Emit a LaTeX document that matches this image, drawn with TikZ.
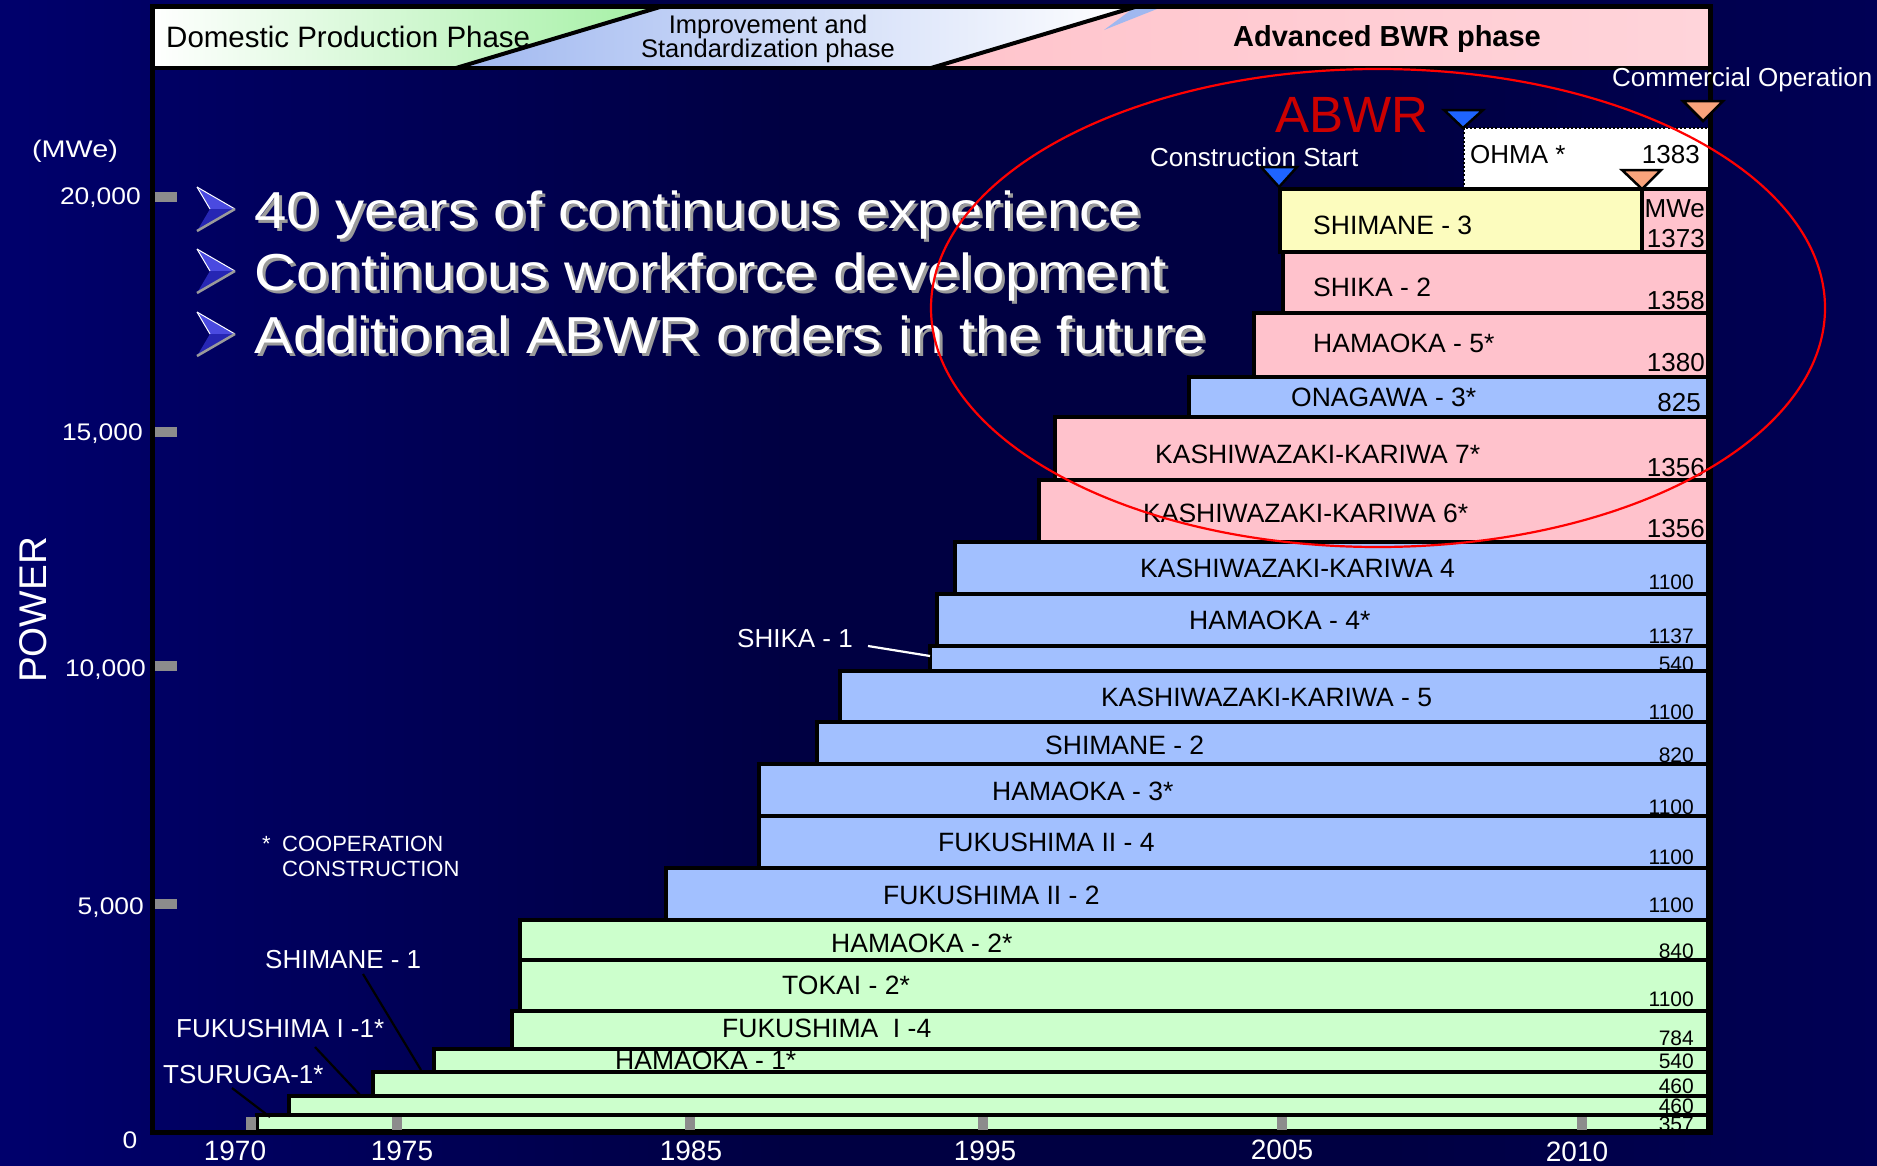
\documentclass[tikz,border=0pt]{standalone}
\usepackage{fontspec}
\setmainfont{Liberation Sans}
\usepackage{graphicx}
\definecolor{bgA}{HTML}{000080}
\definecolor{bgB}{HTML}{000076}
\definecolor{bgC}{HTML}{000042}
\definecolor{bgD}{HTML}{000068}
\definecolor{barGreen}{HTML}{CCFFCC}
\definecolor{barBlue}{HTML}{A2C0FF}
\definecolor{barPink}{HTML}{FFC2CC}
\definecolor{barYellow}{HTML}{FCFCBE}
\definecolor{hdrGreen}{HTML}{A4F0A4}
\definecolor{hdrBlue}{HTML}{A0B8F0}
\definecolor{hdrPink}{HTML}{FFC4CC}
\definecolor{hdrPinkB}{HTML}{FFD4DA}
\definecolor{triBlue}{HTML}{1E64FF}
\definecolor{triOrange}{HTML}{F9A47C}
\definecolor{tickgray}{HTML}{8C8C8C}
\definecolor{abwrRed}{HTML}{CC0000}
\definecolor{shadowgray}{HTML}{9A9A9A}
\definecolor{arrUp}{HTML}{4A4AE0}
\definecolor{arrLo}{HTML}{2626B4}
\pgfdeclarehorizontalshading{bgsh}{100bp}{color(0bp)=(bgA); color(20bp)=(bgB); color(46bp)=(bgC); color(62bp)=(bgC); color(88bp)=(bgD); color(100bp)=(bgA)}
\begin{document}
\begin{tikzpicture}[x=1pt, y=-1pt,
  lbl/.style={inner sep=0pt, text=black, font=\fontsize{26.5}{30}\selectfont, anchor=base west},
  val/.style={inner sep=0pt, text=black, font=\fontsize{26}{30}\selectfont, anchor=base east},
  sval/.style={inner sep=0pt, text=black, font=\fontsize{21}{24}\selectfont, anchor=base east},
  wl/.style={inner sep=0pt, text=white, font=\fontsize{26}{30}\selectfont},
  yr/.style={inner sep=0pt, text=white, font=\fontsize{28}{32}\selectfont, anchor=base},
  ax/.style={inner sep=0pt, text=white, font=\fontsize{24}{28}\selectfont, anchor=base east},
  bt/.style={inner sep=0pt, anchor=base west, font=\fontsize{52}{60}\selectfont},
  barb/.style={draw=black, line width=3.5pt},
  lead/.style={line width=2.2pt},
  tri/.style={draw=black, line width=2.5pt, line join=miter}
]
\useasboundingbox (0,0) rectangle (1877,1165);
\shade[shading=bgsh] (0,0) rectangle (1877,1165);

% header band
\shade[left color=white, right color=hdrGreen] (152,7) -- (660,7) -- (456,68) -- (152,68) -- cycle;
\shade[left color=hdrBlue, right color=white] (456,68) -- (660,7) -- (1135,7) -- (931,68) -- cycle;
\shade[left color=hdrPink, middle color=white, right color=hdrPinkB] (931,68) -- (1135,7) -- (1710,7) -- (1710,68) -- cycle;
\fill[hdrBlue] (1135,7) -- (1162,7) -- (1104,30) -- cycle;
\draw[line width=4pt] (456,68) -- (660,7);
\draw[line width=4pt] (931,68) -- (1135,7);
\node[inner sep=0pt, anchor=base west, font=\fontsize{29.5}{32}\selectfont] (hd1) at (166,47.5) {Domestic Production Phase};
\node[inner sep=0pt, anchor=base, font=\fontsize{25.5}{28}\selectfont] (hd2a) at (768,33) {Improvement and};
\node[inner sep=0pt, anchor=base, font=\fontsize{25.5}{28}\selectfont] (hd2b) at (768,57) {Standardization phase};
\node[inner sep=0pt, anchor=base, font=\fontsize{29}{32}\selectfont\bfseries] (hd3) at (1387,46) {Advanced BWR phase};

% bars
\fill[white] (1464,128) rectangle (1708,189);
\draw[line width=1.8pt, dash pattern=on 2pt off 2.2pt] (1464,189) -- (1464,128) -- (1708,128);
\fill[barYellow] (1280,189) rectangle (1642,252);
\fill[barPink] (1642,189) rectangle (1708,252);
\draw[barb] (1280,189) rectangle (1708,252);
\draw[barb] (1642,189) -- (1642,252);
\filldraw[barb, fill=barPink] (1283,252) rectangle (1708,313);
\filldraw[barb, fill=barPink] (1254,313) rectangle (1708,377);
\filldraw[barb, fill=barBlue] (1189,377) rectangle (1708,417);
\filldraw[barb, fill=barPink] (1055,417) rectangle (1708,480);
\filldraw[barb, fill=barPink] (1039,480) rectangle (1708,542);
\filldraw[barb, fill=barBlue] (955,542) rectangle (1708,594);
\filldraw[barb, fill=barBlue] (937,594) rectangle (1708,646);
\filldraw[barb, fill=barBlue] (930,646) rectangle (1708,671);
\filldraw[barb, fill=barBlue] (840,671) rectangle (1708,722);
\filldraw[barb, fill=barBlue] (817,722) rectangle (1708,764);
\filldraw[barb, fill=barBlue] (759,764) rectangle (1708,816);
\filldraw[barb, fill=barBlue] (759,816) rectangle (1708,868);
\filldraw[barb, fill=barBlue] (666,868) rectangle (1708,920);
\filldraw[barb, fill=barGreen] (520,920) rectangle (1708,960);
\filldraw[barb, fill=barGreen] (520,960) rectangle (1708,1011);
\filldraw[barb, fill=barGreen] (512,1011) rectangle (1708,1049);
\filldraw[barb, fill=barGreen] (434,1049) rectangle (1708,1072);
\filldraw[barb, fill=barGreen] (373,1072) rectangle (1708,1096);
\filldraw[barb, fill=barGreen] (289,1096) rectangle (1708,1115);
\filldraw[barb, fill=barGreen] (257,1115) rectangle (1708,1131);

% bar labels
\node[wl, anchor=base west, text=black] (nOH) at (1470,163.3) {OHMA *};
\node[lbl] (nSH3) at (1313,234.5) {SHIMANE - 3};
\node[lbl] (nSK2) at (1313,296.5) {SHIKA - 2};
\node[lbl] (nHM5) at (1313,352.5) {HAMAOKA - 5*};
\node[lbl] (nON3) at (1291,406.5) {ONAGAWA - 3*};
\node[lbl] (nKK7) at (1155,463.5) {KASHIWAZAKI-KARIWA 7*};
\node[lbl] (nKK6) at (1143,522.5) {KASHIWAZAKI-KARIWA 6*};
\node[lbl] (nKK4) at (1140,577.5) {KASHIWAZAKI-KARIWA 4};
\node[lbl] (nHM4) at (1189,629.5) {HAMAOKA - 4*};
\node[lbl] (nKK5) at (1101,706.5) {KASHIWAZAKI-KARIWA - 5};
\node[lbl] (nSM2) at (1045,754.5) {SHIMANE - 2};
\node[lbl] (nHM3) at (992,800.5) {HAMAOKA - 3*};
\node[lbl] (nF24) at (938,851.5) {FUKUSHIMA II - 4};
\node[lbl] (nF22) at (883,904.5) {FUKUSHIMA II - 2};
\node[lbl] (nHM2) at (831,952.5) {HAMAOKA - 2*};
\node[lbl] (nTK2) at (782,994.5) {TOKAI - 2*};
\node[lbl] (nF14) at (722,1037.5) {FUKUSHIMA \ I -4};
\node[lbl] (nHM1) at (615,1069.5) {HAMAOKA - 1*};

% values
\node[val] (v1) at (1700,163.3) {1383};
\node[val] (v2a) at (1705,217.3) {MWe};
\node[val] (v2) at (1705,247.3) {1373};
\node[val] (v3) at (1705,309.3) {1358};
\node[val] (v4) at (1705,371.3) {1380};
\node[val] (v5) at (1701,411.3) {825};
\node[val] (v6) at (1705,476.3) {1356};
\node[val] (v7) at (1705,537.3) {1356};
\node[sval] (v8) at (1694,589.5) {1100};
\node[sval] (v9) at (1694,643.5) {1137};
\node[sval] (v10) at (1694,671.5) {540};
\node[sval] (v11) at (1694,719.5) {1100};
\node[sval] (v12) at (1694,762.5) {820};
\node[sval] (v13) at (1694,814.5) {1100};
\node[sval] (v14) at (1694,864.5) {1100};
\node[sval] (v15) at (1694,912.5) {1100};
\node[sval] (v16) at (1694,958.5) {840};
\node[sval] (v17) at (1694,1006.5) {1100};
\node[sval] (v18) at (1694,1045.5) {784};
\node[sval] (v19) at (1694,1068.5) {540};
\node[sval] (v20) at (1694,1093.5) {460};
\node[sval] (v21) at (1694,1113.5) {460};
\node[sval] (v22) at (1694,1131.5) {357};

% ticks
\foreach \c in {251,397,690,983,1282,1582} {\fill[tickgray] ({\c-5},1117) rectangle ({\c+5},1130);}
\foreach \c in {197,432,666,904} {\fill[tickgray] (155,{\c-5}) rectangle (177,{\c+5});}

% frame
\draw[line width=5pt] (152,6) rectangle (1710,1132);
\draw[line width=4pt] (152,68) -- (1710,68);

% axis labels
\node[inner sep=0pt, anchor=base, text=white, font=\fontsize{24}{28}\selectfont] (mwe) at (75,157) {\scalebox{1.2}[1]{(MWe)}};
\node[ax] (y20) at (141,204) {\scalebox{1.1}[1]{20,000}};
\node[ax] (y15) at (143,440) {\scalebox{1.1}[1]{15,000}};
\node[ax] (y10) at (146,676) {\scalebox{1.1}[1]{10,000}};
\node[ax] (y5) at (144,914) {\scalebox{1.1}[1]{5,000}};
\node[inner sep=0pt, anchor=base, text=white, font=\fontsize{24}{28}\selectfont] (y0) at (130,1148) {\scalebox{1.1}[1]{0}};
\node[inner sep=0pt, text=white, rotate=90, font=\fontsize{38.6}{40}\selectfont] (pw) at (33,610) {POWER};
\node[yr] (t70) at (235,1160) {1970};
\node[yr] (t75) at (402,1160) {1975};
\node[yr] (t85) at (691,1160) {1985};
\node[yr] (t95) at (985,1160) {1995};
\node[yr] (t05) at (1282,1159) {2005};
\node[yr] (t10) at (1577,1161) {2010};

% bullets
\foreach \yc/\nm in {209/a,271/b,334/c} {
  \fill[arrUp] (197,{\yc-22}) -- (235,\yc) -- (210,\yc) -- cycle;
  \fill[arrLo] (210,\yc) -- (235,\yc) -- (197,{\yc+22}) -- cycle;
  \draw[white, line width=1pt] (197,{\yc-22}) -- (235,\yc);
  \draw[white, line width=1pt] (197,{\yc-22}) -- (210,\yc);
  \draw[shadowgray, line width=2.5pt] (197,{\yc+22}) -- (235,\yc);
}
\node[bt, text=shadowgray] (b1s) at (257,231) {\scalebox{1.12}[1]{40 years of continuous experience}};
\node[bt, text=white] (b1) at (254,228) {\scalebox{1.12}[1]{40 years of continuous experience}};
\node[bt, text=shadowgray] (b2s) at (257,293) {\scalebox{1.12}[1]{Continuous workforce development}};
\node[bt, text=white] (b2) at (254,290) {\scalebox{1.12}[1]{Continuous workforce development}};
\node[bt, text=shadowgray] (b3s) at (257,356) {\scalebox{1.12}[1]{Additional ABWR orders in the future}};
\node[bt, text=white] (b3) at (254,353) {\scalebox{1.12}[1]{Additional ABWR orders in the future}};

% notes and leader labels
\node[inner sep=0pt, anchor=base west, text=white, font=\fontsize{22}{26}\selectfont] (ast) at (262,851) {*};
\node[inner sep=0pt, anchor=base west, text=white, font=\fontsize{22}{26}\selectfont] (coop1) at (282,851) {COOPERATION};
\node[inner sep=0pt, anchor=base west, text=white, font=\fontsize{22}{26}\selectfont] (coop2) at (282,876) {CONSTRUCTION};
\node[wl, anchor=base west] (lS1) at (265,968.3) {SHIMANE - 1};
\node[wl, anchor=base west] (lF1) at (176,1037.3) {FUKUSHIMA I -1*};
\node[wl, anchor=base west] (lT1) at (163,1083.3) {TSURUGA-1*};
\node[wl, anchor=base east] (lSK1) at (853,647.3) {SHIKA - 1};
\coordinate (s1a) at (363,974); \coordinate (s1b) at (421,1070);
\coordinate (f1a) at (315,1047); \coordinate (f1b) at (362,1097);
\coordinate (t1a) at (232,1088); \coordinate (t1b) at (270,1117);
\coordinate (k1a) at (868,646); \coordinate (k1b) at (930,656);
\draw[lead] (s1a) -- (s1b);
\draw[lead] (f1a) -- (f1b);
\draw[lead] (t1a) -- (t1b);
\draw[lead, white] (k1a) -- (k1b);

% ABWR markers
\node[inner sep=0pt, anchor=base west, text=abwrRed, font=\fontsize{51}{56}\selectfont] (abwr) at (1275,132) {ABWR};
\node[wl, anchor=base west] (cst) at (1150,166.3) {Construction Start};
\node[wl, anchor=base west] (cop) at (1612,86.4) {Commercial Operation};
\filldraw[tri, fill=triBlue] (1444,110) -- (1483,110) -- (1463,128) -- cycle;
\filldraw[tri, fill=triBlue] (1261,167) -- (1297,167) -- (1279,187) -- cycle;
\filldraw[tri, fill=triOrange] (1622,170) -- (1661,170) -- (1642,189) -- cycle;
\filldraw[tri, fill=triOrange] (1683,101) -- (1723,101) -- (1703,121) -- cycle;

% ellipse
\draw[red, line width=2.2pt] (1378,308) ellipse [x radius=447pt, y radius=239pt];
\end{tikzpicture}
\end{document}
